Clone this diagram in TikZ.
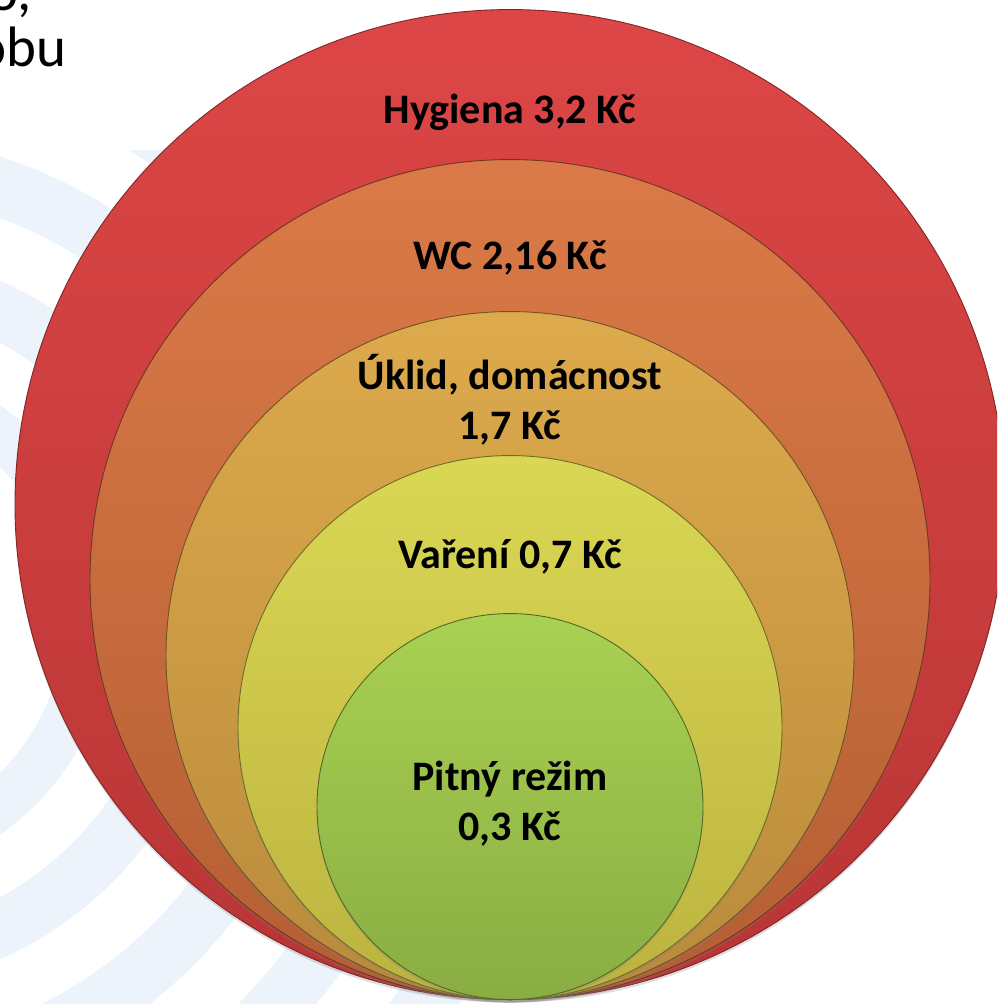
\documentclass[tikz,border=0pt]{standalone}
\usepackage{fontspec}
\setmainfont{Carlito}
\usetikzlibrary{positioning}
\usetikzlibrary{shadows}

\definecolor{rippleblue}{HTML}{ECF3FB}
\definecolor{hygtop}{HTML}{DD4646}
\definecolor{hygbot}{HTML}{B83535}
\definecolor{wctop}{HTML}{DB7A48}
\definecolor{wcbot}{HTML}{B45E33}
\definecolor{ukltop}{HTML}{DDAA4C}
\definecolor{uklbot}{HTML}{B98A3C}
\definecolor{vartop}{HTML}{DAD754}
\definecolor{varbot}{HTML}{BBB33F}
\definecolor{pittop}{HTML}{A9D152}
\definecolor{pitbot}{HTML}{89AD43}

\tikzset{
  ring/.style={circle, inner sep=0pt, anchor=south, draw=#1, line width=0.9pt,
    drop shadow={opacity=0.25, shadow xshift=0pt, shadow yshift=-3pt}},
  tag/.style={font=\bfseries\fontsize{42}{50}\selectfont, align=center, inner sep=0pt},
  slidetext/.style={font=\fontsize{57}{58}\selectfont, anchor=base west, inner sep=0pt},
}

\begin{document}
\begin{tikzpicture}[x=1pt, y=-1pt]
            \useasboundingbox (0,0) rectangle (997,1004);
            \clip (0,0) rectangle (997,1004);

            % pale ripples behind the diagram
            \begin{scope}
                \clip (-1,150) rectangle (997,1004);
                \fill[rippleblue, even odd rule] (-150,620)
                    circle[radius=720pt] circle[radius=662pt]
                    circle[radius=604pt] circle[radius=546pt]
                    circle[radius=487pt] circle[radius=429pt]
                    circle[radius=371pt] circle[radius=315pt]
                    circle[radius=262pt] circle[radius=214pt];
            \end{scope}

            % cut-off slide text
            \node[slidetext] (linea) at (-12,10) {o,};
            \node[slidetext] (lineb) at (-24,66) {obu};

            % nested circles, all touching at the bottom
            \node[ring=hygbot!70!black, minimum size=990pt, top color=hygtop, bottom color=hygbot] (hygiena) at (510,1000) {};
            \node[ring=wcbot!60!black, minimum size=840pt, top color=wctop, bottom color=wcbot] (wc) at (hygiena.south) {};
            \node[ring=uklbot!60!black, minimum size=688pt, top color=ukltop, bottom color=uklbot] (uklid) at (hygiena.south) {};
            \node[ring=varbot!60!black, minimum size=544pt, top color=vartop, bottom color=varbot] (vareni) at (hygiena.south) {};
            \node[ring=pitbot!60!black, minimum size=386pt, top color=pittop, bottom color=pitbot] (pitny) at (hygiena.south) {};

            \node[tag] (hygtext) at (510,112) {Hygiena 3,2 Kč};
            \node[tag] (wctext) at (510,258) {WC 2,16 Kč};
            \node[tag] (ukltext) at (510,400) {Úklid, domácnost\\1,7 Kč};
            \node[tag] (vartext) at (510,557) {Vaření 0,7 Kč};
            \node[tag] (pittext) at (510,804) {Pitný režim\\0,3 Kč};
        \end{tikzpicture}
\end{document}
